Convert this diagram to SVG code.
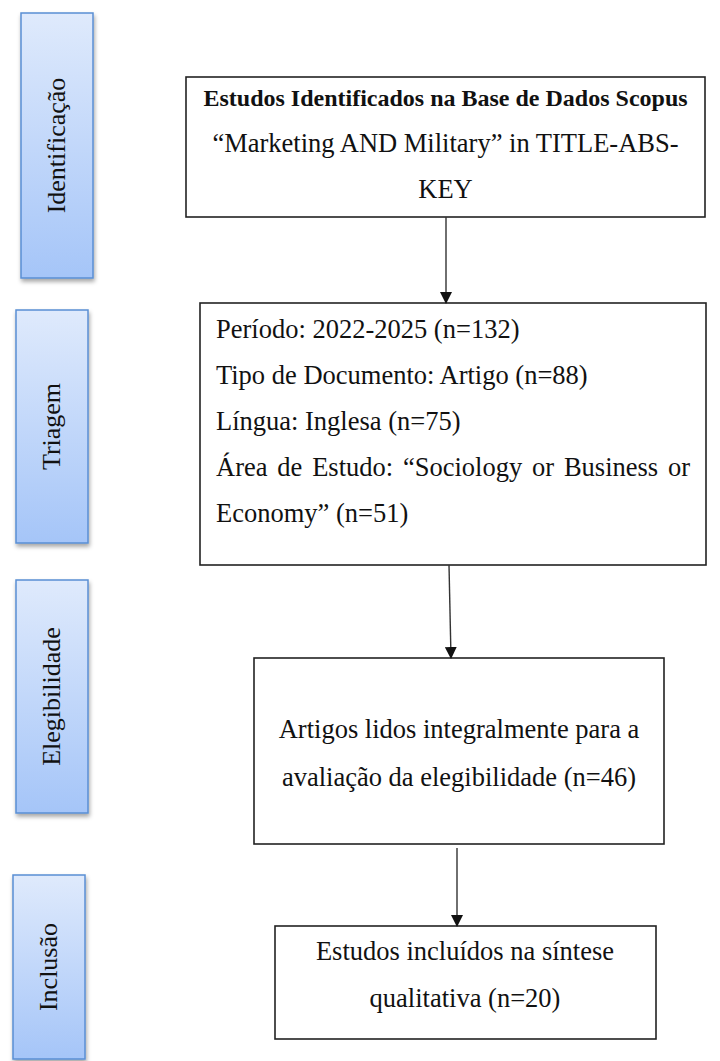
<svg xmlns="http://www.w3.org/2000/svg" width="720" height="1061" viewBox="0 0 720 1061">
  <defs>
    <linearGradient id="sideGrad" x1="0" y1="0" x2="0" y2="1">
      <stop offset="0" stop-color="#dfeafc"/>
      <stop offset="1" stop-color="#a5c5f8"/>
    </linearGradient>
    <filter id="shadow" x="-20%" y="-10%" width="150%" height="130%">
      <feDropShadow dx="1" dy="3" stdDeviation="2" flood-color="#000" flood-opacity="0.35"/>
    </filter>
    <marker id="arrow" markerWidth="12" markerHeight="12" refX="11" refY="6" orient="auto" markerUnits="userSpaceOnUse">
      <path d="M0,0 L12,6 L0,12 Z" fill="#111"/>
    </marker>
  </defs>
  <style>
    .side { fill: url(#sideGrad); stroke: #5a8ed4; stroke-width: 1.5; filter: url(#shadow); }
    .box { fill: #fff; stroke: #222; stroke-width: 1.6; }
    .t { font-family: "Liberation Serif", "Times New Roman", serif; font-size: 26.5px; fill: #111; }
    .b { font-family: "Liberation Serif", "Times New Roman", serif; font-size: 24px; font-weight: bold; fill: #111; }
    .lab { font-family: "Liberation Serif", "Times New Roman", serif; font-size: 26px; fill: #111; text-anchor: middle; }
    .c { text-anchor: middle; }
    .conn { stroke: #333; stroke-width: 1.4; fill: none; marker-end: url(#arrow); }
  </style>
  <rect width="720" height="1061" fill="#fff"/>

  <g id="side-identificacao">
    <rect class="side" x="21" y="13" width="72" height="265"/>
    <text class="lab" transform="translate(65,145.5) rotate(-90)">Identificação</text>
  </g>
  <g id="side-triagem">
    <rect class="side" x="16" y="310" width="72" height="233"/>
    <text class="lab" transform="translate(60,426.5) rotate(-90)">Triagem</text>
  </g>
  <g id="side-elegibilidade">
    <rect class="side" x="16" y="580" width="72" height="233"/>
    <text class="lab" transform="translate(60,696.5) rotate(-90)">Elegibilidade</text>
  </g>
  <g id="side-inclusao">
    <rect class="side" x="13" y="875" width="72" height="184"/>
    <text class="lab" transform="translate(57,967) rotate(-90)">Inclusão</text>
  </g>

  <g id="node-identificados">
    <rect class="box" x="186" y="77" width="519" height="140"/>
    <text class="b c" x="445.5" y="106">Estudos Identificados na Base de Dados Scopus</text>
    <text class="t c" x="445.5" y="152">“Marketing AND Military” in TITLE-ABS-</text>
    <text class="t c" x="445.5" y="198">KEY</text>
  </g>

  <g id="node-triagem">
    <rect class="box" x="200" y="303" width="506" height="262"/>
    <text class="t" x="216" y="338">Período: 2022-2025 (n=132)</text>
    <text class="t" x="216" y="384">Tipo de Documento: Artigo (n=88)</text>
    <text class="t" x="216" y="430">Língua: Inglesa (n=75)</text>
    <text class="t" x="216" y="476" word-spacing="3.2">Área de Estudo: “Sociology or Business or</text>
    <text class="t" x="216" y="522">Economy” (n=51)</text>
  </g>

  <g id="node-elegibilidade">
    <rect class="box" x="254" y="658" width="410" height="186"/>
    <text class="t c" x="459" y="738">Artigos lidos integralmente para a</text>
    <text class="t c" x="459" y="786">avaliação da elegibilidade (n=46)</text>
  </g>

  <g id="node-inclusao">
    <rect class="box" x="275" y="926" width="381" height="113"/>
    <text class="t c" x="465" y="960">Estudos incluídos na síntese</text>
    <text class="t c" x="465" y="1007">qualitativa (n=20)</text>
  </g>

  <g id="connectors">
    <line class="conn" x1="446" y1="217" x2="446" y2="303"/>
    <line class="conn" x1="449" y1="565" x2="451" y2="658"/>
    <line class="conn" x1="457" y1="848" x2="457" y2="926"/>
  </g>
</svg>
